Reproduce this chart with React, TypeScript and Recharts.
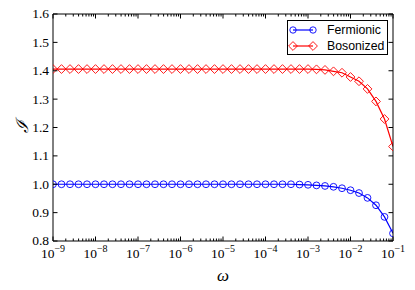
import { LineChart, Line, XAxis, YAxis, Legend, Label } from 'recharts'

// log10(omega) of each sample, 5 per decade
const omegaExponents = [
  -9, -8.8, -8.6, -8.4, -8.2, -8, -7.8, -7.6, -7.4, -7.2,
  -7, -6.8, -6.6, -6.4, -6.2, -6, -5.8, -5.6, -5.4, -5.2,
  -5, -4.8, -4.6, -4.4, -4.2, -4, -3.8, -3.6, -3.4, -3.2,
  -3, -2.8, -2.6, -2.4, -2.2, -2, -1.8, -1.6, -1.4, -1.2, -1,
]

const fermionic = [
  1, 1, 1, 1, 1, 1, 1, 1, 1, 1,
  1, 1, 1, 1, 1, 1, 1, 1, 1, 1,
  1, 1, 1, 1, 1, 1, 1, 1, 1, 0.999,
  0.998, 0.996, 0.994, 0.991, 0.986, 0.979, 0.969, 0.952, 0.926, 0.885, 0.827,
]

const bosonized = [
  1.406, 1.406, 1.406, 1.406, 1.406, 1.406, 1.406, 1.406, 1.406, 1.406,
  1.406, 1.406, 1.406, 1.406, 1.406, 1.406, 1.406, 1.406, 1.406, 1.406,
  1.406, 1.406, 1.406, 1.406, 1.406, 1.406, 1.406, 1.406, 1.406, 1.406,
  1.406, 1.405, 1.403, 1.398, 1.393, 1.378, 1.363, 1.336, 1.292, 1.230, 1.133,
]

const majorExponents = [-9, -8, -7, -6, -5, -4, -3, -2, -1]
const minorMultipliers = [2, 3, 4, 5, 6, 7, 8, 9]
const yTicks = [0.8, 0.9, 1.0, 1.1, 1.2, 1.3, 1.4, 1.5, 1.6]

const toOmega = (e: number) => Number((10 ** e).toPrecision(10))

const data = omegaExponents.map((e, i) => ({
  omega: toOmega(e),
  fermionic: fermionic[i],
  bosonized: bosonized[i],
}))

const xTicks: number[] = []
majorExponents.forEach((e) => {
  xTicks.push(toOmega(e))
  if (e < -1) minorMultipliers.forEach((m) => xTicks.push(Number((m * 10 ** e).toPrecision(10))))
})

const W = 415
const H = 290
const PLOT_TOP = 14
const PLOT_BOTTOM = 241
const PLOT_LEFT = 53
const PLOT_RIGHT = 393
// axis sizes are added to these margins to give the plot box above
const MARGIN = { top: PLOT_TOP - 1, right: W - PLOT_RIGHT - 1, bottom: H - PLOT_BOTTOM - 30, left: PLOT_LEFT - 50 }

const BLUE = '#0000ff'
const RED = '#ff0000'
const FRAME = '#000000'
const SERIF = '"Liberation Serif", "DejaVu Serif", serif'
const SANS = '"Liberation Sans", Arial, sans-serif'

const isMajor = (v: number) => {
  const l = Math.log10(v)
  return Math.abs(l - Math.round(l)) < 1e-6
}

function BottomTick(props: any) {
  const { x, payload } = props
  const v = payload.value as number
  const major = isMajor(v)
  const len = major ? 4.5 : 2.5
  return (
    <g>
      <line x1={x} x2={x} y1={PLOT_BOTTOM} y2={PLOT_BOTTOM - len} stroke={FRAME} strokeWidth={1} />
      {major && (
        <text x={x} y={258} textAnchor="middle" style={{ fontFamily: SERIF, fontSize: 13.5 }} fill="#000">
          <tspan>10</tspan>
          <tspan dy={-6} style={{ fontSize: 10 }}>{'\u2212' + Math.abs(Math.round(Math.log10(v)))}</tspan>
        </text>
      )}
    </g>
  )
}

function TopTick(props: any) {
  const { x, payload } = props
  const len = isMajor(payload.value) ? 4.5 : 2.5
  return <line x1={x} x2={x} y1={PLOT_TOP} y2={PLOT_TOP + len} stroke={FRAME} strokeWidth={1} />
}

function LeftTick(props: any) {
  const { y, payload } = props
  return (
    <g>
      <line x1={PLOT_LEFT} x2={PLOT_LEFT + 4.5} y1={y} y2={y} stroke={FRAME} strokeWidth={1} />
      <text x={49} y={y} dy="0.33em" textAnchor="end" style={{ fontFamily: SERIF, fontSize: 13.5 }} fill="#000">
        {(payload.value as number).toFixed(1)}
      </text>
    </g>
  )
}

function RightTick(props: any) {
  const { y } = props
  return <line x1={PLOT_RIGHT} x2={PLOT_RIGHT - 4.5} y1={y} y2={y} stroke={FRAME} strokeWidth={1} />
}

function CircleDot(props: any) {
  const { cx, cy, index } = props
  if (cx == null || cy == null) return <g key={index} />
  return <circle key={index} cx={cx} cy={cy} r={3.4} fill="none" stroke={BLUE} strokeWidth={0.9} />
}

function DiamondDot(props: any) {
  const { cx, cy, index } = props
  if (cx == null || cy == null) return <g key={index} />
  const r = 4.4
  return (
    <path
      key={index}
      d={`M${cx},${cy - r}L${cx + r},${cy}L${cx},${cy + r}L${cx - r},${cy}Z`}
      fill="none"
      stroke={RED}
      strokeWidth={0.9}
    />
  )
}

function LegendBox() {
  const rows = [
    { name: 'Fermionic', color: BLUE, marker: 'circle' },
    { name: 'Bosonized', color: RED, marker: 'diamond' },
  ]
  return (
    <div
      style={{
        border: '1px solid #000',
        background: '#fff',
        width: 99,
        height: 33,
        boxSizing: 'content-box',
        position: 'relative',
      }}
    >
      {rows.map((r, i) => (
        <div key={r.name} style={{ position: 'absolute', left: 0, top: 2 + i * 15.5, height: 14, display: 'flex', alignItems: 'center' }}>
          <svg width={36} height={14} style={{ display: 'block' }}>
            <line x1={5} x2={25} y1={7} y2={7} stroke={r.color} strokeWidth={1.2} />
            {r.marker === 'circle' ? (
              <>
                <circle cx={5} cy={7} r={3.2} fill="none" stroke={r.color} strokeWidth={0.9} />
                <circle cx={25} cy={7} r={3.2} fill="none" stroke={r.color} strokeWidth={0.9} />
              </>
            ) : (
              <>
                <path d="M5,2.6L9.4,7L5,11.4L0.6,7Z" fill="none" stroke={r.color} strokeWidth={0.9} />
                <path d="M25,2.6L29.4,7L25,11.4L20.6,7Z" fill="none" stroke={r.color} strokeWidth={0.9} />
              </>
            )}
          </svg>
          <span style={{ fontFamily: SANS, fontSize: 12.3, color: '#000', marginLeft: 3, lineHeight: '14px', whiteSpace: 'nowrap' }}>{r.name}</span>
        </div>
      ))}
    </div>
  )
}

export default function App() {
  return (
    <div style={{ position: 'absolute', left: 0, top: 0, width: W, height: H, background: '#fff' }}>
      <LineChart width={W} height={H} data={data} margin={MARGIN}>
        <XAxis
          dataKey="omega"
          type="number"
          scale="log"
          domain={[1e-9, 1e-1]}
          allowDataOverflow
          ticks={xTicks}
          interval={0}
          height={30}
          tick={BottomTick}
          tickLine={false}
          axisLine={{ stroke: FRAME, strokeWidth: 1 }}
        >
          <Label
            content={() => (
              <text x={223} y={281} textAnchor="middle" style={{ fontFamily: SERIF, fontSize: 17, fontStyle: 'italic' }} fill="#000">
                ω
              </text>
            )}
          />
        </XAxis>
        <XAxis
          xAxisId="top"
          orientation="top"
          dataKey="omega"
          type="number"
          scale="log"
          domain={[1e-9, 1e-1]}
          allowDataOverflow
          ticks={xTicks}
          interval={0}
          height={1}
          tick={TopTick}
          tickLine={false}
          axisLine={{ stroke: FRAME, strokeWidth: 1 }}
        />
        <YAxis
          type="number"
          domain={[0.8, 1.6]}
          ticks={yTicks}
          interval={0}
          width={50}
          allowDataOverflow
          tick={LeftTick}
          tickLine={false}
          axisLine={{ stroke: FRAME, strokeWidth: 1 }}
        >
          <Label
            content={() => (
              <text
                x={22}
                y={126}
                transform="rotate(-90 22 126)"
                textAnchor="middle"
                dominantBaseline="central"
                style={{ fontFamily: SERIF, fontSize: 17, fontStyle: 'italic' }}
                fill="#000"
              >
                ℐ
              </text>
            )}
          />
        </YAxis>
        <YAxis
          yAxisId="right"
          orientation="right"
          type="number"
          domain={[0.8, 1.6]}
          ticks={yTicks}
          interval={0}
          width={1}
          allowDataOverflow
          tick={RightTick}
          tickLine={false}
          axisLine={{ stroke: FRAME, strokeWidth: 1 }}
        />
        <Legend
          layout="horizontal"
          verticalAlign="middle"
          align="center"
          content={() => <LegendBox />}
          wrapperStyle={{ position: 'absolute', top: 20, left: 287, width: 101, height: 35 }}
        />
        <Line
          type="linear"
          dataKey="fermionic"
          name="Fermionic"
          stroke={BLUE}
          strokeWidth={1.2}
          dot={CircleDot}
          activeDot={false}
          isAnimationActive={false}
        />
        {/* same domains as the default axes; bound here so the top/right frame axes get drawn */}
        <Line
          type="linear"
          dataKey="bosonized"
          name="Bosonized"
          xAxisId="top"
          yAxisId="right"
          stroke={RED}
          strokeWidth={1.2}
          dot={DiamondDot}
          activeDot={false}
          isAnimationActive={false}
        />
      </LineChart>
    </div>
  )
}
